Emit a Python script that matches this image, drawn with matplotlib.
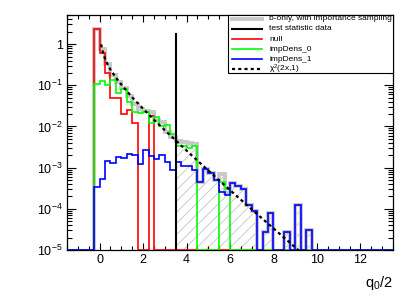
import numpy as np
import matplotlib
matplotlib.use("Agg")
import matplotlib.pyplot as plt
from matplotlib.ticker import MultipleLocator, LogLocator, FuncFormatter, NullFormatter, FixedLocator
from matplotlib.patches import Rectangle
from matplotlib.lines import Line2D

plt.rcParams['font.family'] = ['Liberation Sans', 'DejaVu Sans']
plt.rcParams['mathtext.fontset'] = 'custom'
plt.rcParams['mathtext.rm'] = 'Liberation Sans'
plt.rcParams['mathtext.it'] = 'Liberation Sans:italic'
plt.rcParams['mathtext.default'] = 'regular'
plt.rcParams['hatch.linewidth'] = 0.6

# ---------------- data ----------------
x_low, x_high, n_bins = -1.5, 13.5, 60
first_filled_bin = 5          # bin starting at -0.25

# bin contents from -0.25 to 10.0 (41 bins of 0.25)
null_vals = [2.3, 0.6, 0.197, 0.049, 0.049, 0.020, 0.025, 0.012, 0, 0, 0.018,
             0, 0, 0, 0, 0, 0, 0, 0, 0, 0, 0, 0, 0, 0, 0, 0, 0, 0, 0,
             0, 0, 0, 0, 0, 0, 0, 0, 0, 0, 0]
imp0_vals = [0.107, 0.128, 0.103, 0.135, 0.066, 0.081, 0.040, 0.022, 0.021, 0.023,
             0.012, 0.017, 0.010, 0.011, 0.0065, 0.0034, 0.0034, 0.0030, 0.0034,
             0, 0, 0, 0, 4.6e-4, 3.0e-4,
             0, 0, 0, 0, 0, 0, 0, 0, 0, 0, 0, 0, 0, 0, 0, 0]
imp1_vals = [3.3e-4, 5.2e-4, 1.48e-3, 1.3e-3, 1.85e-3, 1.7e-3, 2.1e-3, 2.0e-3, 1.23e-3,
             2.7e-3, 1.9e-3, 1.6e-3, 2.0e-3, 1.4e-3, 8.8e-4, 1.35e-3, 1.1e-3, 1.1e-3,
             8.8e-4, 4.4e-4, 9.4e-4, 7.3e-4, 5.0e-4, 2.6e-4, 2.2e-4, 4.2e-4, 3.6e-4,
             3.0e-4, 1.24e-4, 9.0e-5, 0, 2.8e-5, 7.8e-5, 0, 0, 2.8e-5, 0, 1.24e-4,
             0, 3.1e-5, 0]
bonly_vals = [2.3, 0.75, 0.33, 0.18, 0.12, 0.085, 0.055, 0.035, 0.027, 0.024,
              0.022, 0.014, 0.013, 0.0075, 0.0055, 0.0045, 0.0042, 0.0040, 0.0037,
              4.6e-4, 9.4e-4, 7.3e-4, 5.0e-4, 7.0e-4, 2.4e-4, 4.2e-4, 3.6e-4,
              3.0e-4, 1.24e-4, 9.0e-5, 0, 2.8e-5, 7.8e-5, 0, 0, 2.8e-5, 0, 1.24e-4,
              0, 3.1e-5, 0]

test_stat = 3.53
test_stat_top = 1.75

chi2_x = [0.07, 0.15, 0.25, 0.35, 0.5, 0.75, 1.0, 1.5, 2.0, 2.5, 3.0, 3.5, 4.0,
          5.0, 6.0, 7.0, 8.0, 9.0, 9.2]
chi2_y = [0.99, 0.63, 0.44, 0.34, 0.24, 0.154, 0.104, 0.051, 0.027, 0.0146,
          0.0081, 0.0046, 0.0026, 8.5e-4, 2.85e-4, 9.7e-5, 3.35e-5, 1.16e-5, 9.4e-6]

legend_labels = ["b-only, with importance sampling", "test statistic data", "null",
                 "impDens_0", "impDens_1", r"$\chi^{2}$(2x,1)"]
x_ticks = [0, 2, 4, 6, 8, 10, 12]
y_ticks = [1e-5, 1e-4, 1e-3, 1e-2, 1e-1, 1]
y_low, y_high = 1e-5, 5.1

# ---------------- helpers ----------------
edges = np.linspace(x_low, x_high, n_bins + 1)


def full(vals):
    a = np.zeros(n_bins)
    a[first_filled_bin:first_filled_bin + len(vals)] = vals
    return a


null_h = full(null_vals)
imp0_h = full(imp0_vals)
imp1_h = full(imp1_vals)
bonly_h = full(bonly_vals)

fig = plt.figure(figsize=(4.15, 2.98), dpi=100)
fig.patch.set_facecolor('white')
L, R, T, B = 67, 393, 15, 250
W, H = 415, 298
ax = fig.add_axes([L / W, (H - B) / H, (R - L) / W, (B - T) / H])
ax.set_yscale('log')
ax.set_xlim(x_low, x_high)
ax.set_ylim(y_low, y_high)

GRAY = '#c8c8c8'
# hatched tail of b-only beyond the test statistic
tail = np.where(edges[:-1] >= test_stat - 0.05, bonly_h, 0)
ax.stairs(np.where(tail > 0, tail, 1e-8), edges, baseline=1e-8, fill=True,
          facecolor='none', edgecolor='#c4c4c4', hatch='///', linewidth=0, zorder=1)
ax.stairs(np.where(bonly_h > 0, bonly_h, 1e-8), edges, baseline=1e-8,
          color=GRAY, linewidth=2.8, zorder=2)

floor = y_low
ax.stairs(np.where(null_h > 0, null_h, floor), edges, baseline=floor, color='#ff0000', linewidth=1.2, zorder=3)
ax.stairs(np.where(imp0_h > 0, imp0_h, floor), edges, baseline=floor, color='#00ff00', linewidth=1.2, zorder=4)
ax.stairs(np.where(imp1_h > 0, imp1_h, floor), edges, baseline=floor, color='#0000ff', linewidth=1.2, zorder=5)

ax.plot([test_stat, test_stat], [y_low, test_stat_top], color='black', linewidth=1.5, zorder=6)
ax.plot(chi2_x, chi2_y, color='black', linewidth=1.6, dashes=(1.4, 1.4), zorder=7)

# ticks
ax.xaxis.set_major_locator(FixedLocator(x_ticks))
ax.xaxis.set_minor_locator(MultipleLocator(0.5))
ax.xaxis.set_major_formatter(FuncFormatter(lambda v, p: "%d" % v))
ax.yaxis.set_major_locator(FixedLocator(y_ticks))
ax.yaxis.set_minor_locator(LogLocator(base=10, subs=np.arange(2, 10), numticks=20))
ax.yaxis.set_minor_formatter(NullFormatter())


def yfmt(v, p):
    e = int(round(np.log10(v)))
    if e == 0:
        return "1"
    return r"$10^{%d}$" % e


ax.yaxis.set_major_formatter(FuncFormatter(yfmt))
ax.tick_params(axis='x', which='major', direction='in', length=5, width=0.8, top=True,
               labelsize=9, pad=3)
ax.tick_params(axis='x', which='minor', direction='in', length=2.7, width=0.8, top=True)
ax.tick_params(axis='y', which='major', direction='in', length=6.5, width=0.8, right=True,
               labelsize=9, pad=3)
ax.tick_params(axis='y', which='minor', direction='in', length=3.5, width=0.8, right=True)
for s in ax.spines.values():
    s.set_linewidth(0.9)

fig.text(R / W, 1 - 287 / H, r"$q_{0}$/2", ha='right', va='baseline', fontsize=10.5)

# legend (drawn manually, ROOT style)
def axc(px, py):
    return ((px - L) / (R - L), (B - py) / (B - T))

lx0, ly0 = axc(228, 73)
lx1, ly1 = axc(393, 15)
ax.add_patch(Rectangle((lx0, ly0), lx1 - lx0, ly1 - ly0, transform=ax.transAxes,
                       facecolor='white', edgecolor='black', linewidth=0.8, zorder=10,
                       clip_on=False))
styles = [dict(color=GRAY, linewidth=2.8),
          dict(color='black', linewidth=1.5),
          dict(color='#ff0000', linewidth=1.2),
          dict(color='#00ff00', linewidth=1.2),
          dict(color='#0000ff', linewidth=1.2),
          dict(color='black', linewidth=1.6, dashes=(1.4, 1.4))]
ys = [18.5, 29.0, 39.3, 49.3, 59.3, 69.3]
for lab, st, py in zip(legend_labels, styles, ys):
    xa, ya = axc(232, py)
    xb, _ = axc(262, py)
    ax.add_line(Line2D([xa, xb], [ya, ya], transform=ax.transAxes, zorder=11, **st))
    xt, _ = axc(269, py)
    ax.text(xt, ya, lab, transform=ax.transAxes, fontsize=6, va='center', ha='left', zorder=12)

fig.savefig("out.png", dpi=100)
